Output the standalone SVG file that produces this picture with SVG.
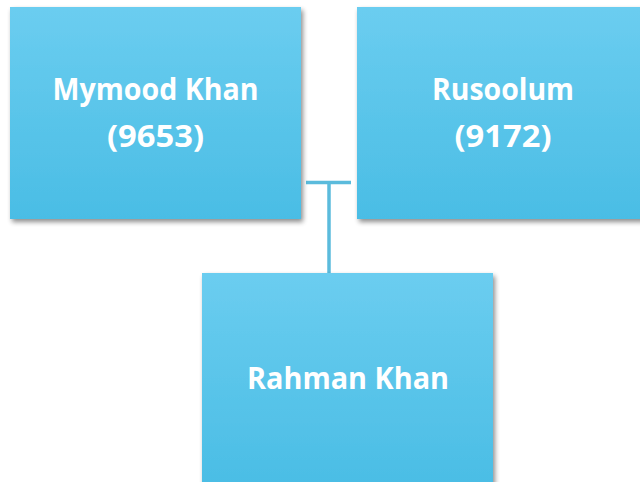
<svg xmlns="http://www.w3.org/2000/svg" width="640" height="482" viewBox="0 0 640 482">
<defs>
<linearGradient id="g" x1="0" y1="0" x2="0" y2="1">
<stop offset="0" stop-color="#6bcdf0"/>
<stop offset="0.5" stop-color="#5ac5ea"/>
<stop offset="1" stop-color="#4abde5"/>
</linearGradient>
<filter id="sh" x="-10%" y="-10%" width="125%" height="125%">
<feGaussianBlur in="SourceAlpha" stdDeviation="2.5"/>
<feOffset dx="2" dy="3" result="b"/>
<feComponentTransfer><feFuncA type="linear" slope="0.45"/></feComponentTransfer>
<feMerge><feMergeNode/><feMergeNode in="SourceGraphic"/></feMerge>
</filter>
</defs>
<style>
.box{fill:url(#g);filter:url(#sh)}
.t{font-family:"Open Sans","DejaVu Sans",sans-serif;font-weight:bold;font-size:31px;fill:#ffffff;text-anchor:middle}
.c{stroke:#5bbbdc;stroke-width:3.5;fill:none}
</style>
<rect width="640" height="482" fill="#ffffff"/>
<g id="connectors">
<path class="c" d="M306 182.5H351"/>
<path class="c" d="M329 182.5V274"/>
</g>
<g id="mymood">
<rect class="box" x="10" y="7" width="291" height="212"/>
<text class="t" x="155.5" y="100" textLength="206" lengthAdjust="spacingAndGlyphs">Mymood Khan</text>
<text class="t" x="155.5" y="147" textLength="97" lengthAdjust="spacingAndGlyphs">(9653)</text>
</g>
<g id="rusoolum">
<rect class="box" x="357" y="7" width="292" height="212"/>
<text class="t" x="503" y="100" textLength="142" lengthAdjust="spacingAndGlyphs">Rusoolum</text>
<text class="t" x="503" y="147" textLength="97" lengthAdjust="spacingAndGlyphs">(9172)</text>
</g>
<g id="rahman">
<rect class="box" x="202" y="273" width="291" height="215"/>
<text class="t" x="348" y="389" textLength="202" lengthAdjust="spacingAndGlyphs">Rahman Khan</text>
</g>
</svg>
